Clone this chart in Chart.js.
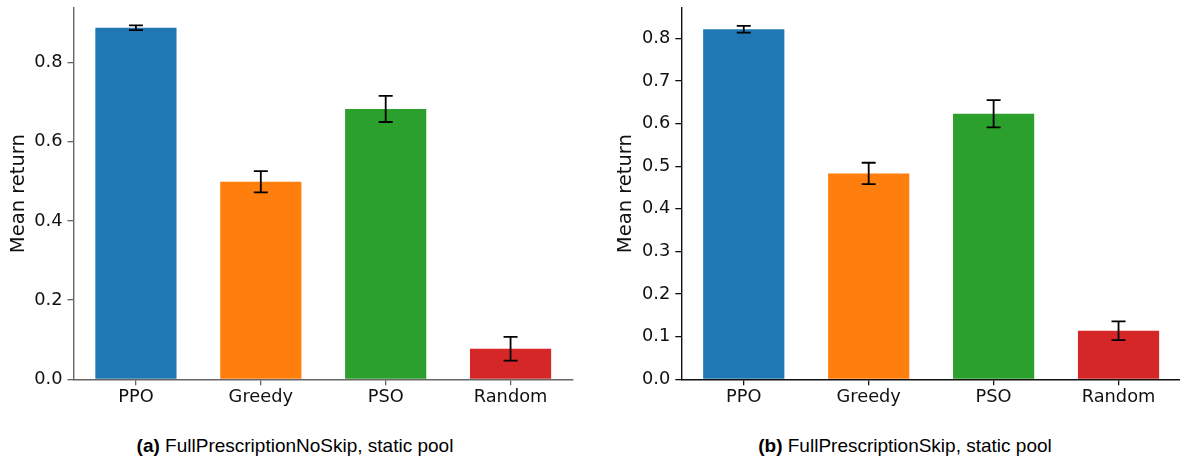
<!DOCTYPE html>
<html>
<head>
<meta charset="utf-8">
<script src="https://cdn.jsdelivr.net/npm/chart.js@4.4.1/dist/chart.umd.min.js"></script>
<style>
  html, body { margin: 0; padding: 0; background: #fff; overflow: hidden; }
  body { width: 1180px; height: 457px; position: relative; }
  .panel { position: absolute; top: 0; height: 410px; }
  .caption {
    position: absolute; top: 436px; width: 600px; text-align: center;
    font-family: "Liberation Sans", Arial, sans-serif; font-size: 19px; line-height: 19px; color: #000;
  }
  .caption b { font-weight: bold; }
</style>
</head>
<body>
<div class="panel" style="left:0px;width:590px"><canvas id="chart_a"></canvas></div>
<div class="panel" style="left:606px;width:575px"><canvas id="chart_b"></canvas></div>
<div class="caption" style="left:-5px"><b>(a)</b> FullPrescriptionNoSkip, static pool</div>
<div class="caption" style="left:605px"><b>(b)</b> FullPrescriptionSkip, static pool</div>

<script>
// data
var methods = ['PPO', 'Greedy', 'PSO', 'Random'];
var barColors = ['#1f77b4', '#ff7f0e', '#2ca02c', '#d62728'];

// (a) FullPrescriptionNoSkip
var meanA = [0.888, 0.499, 0.683, 0.077];
var errA = [0.006, 0.027, 0.033, 0.030];
// (b) FullPrescriptionSkip
var meanB = [0.821, 0.483, 0.623, 0.114];
var errB = [0.008, 0.025, 0.032, 0.022];

// draw matplotlib style error bars on top of the bars
Chart.register({
  id: 'errorBars',
  afterDatasetsDraw: function(chart) {
    var ctx = chart.ctx;
    var yScale = chart.scales.y;
    var errs = chart.options.plugins.errorBars.errors;
    var meta = chart.getDatasetMeta(0);
    var values = chart.data.datasets[0].data;
    ctx.save();
    ctx.strokeStyle = '#000';
    ctx.lineWidth = 1.8;
    meta.data.forEach(function(bar, i) {
      var top = yScale.getPixelForValue(values[i] + errs[i]);
      var bottom = yScale.getPixelForValue(values[i] - errs[i]);
      var cap = 7;
      ctx.beginPath();
      ctx.moveTo(bar.x, top);
      ctx.lineTo(bar.x, bottom);
      ctx.moveTo(bar.x - cap, top);
      ctx.lineTo(bar.x + cap, top);
      ctx.moveTo(bar.x - cap, bottom);
      ctx.lineTo(bar.x + cap, bottom);
      ctx.stroke();
    });
    ctx.restore();
  }
});

function makeChart(id, values, errors, yMax, yStep, yAxisWidth, titlePad, padRight, axisColor) {
  var tickFont = { family: 'DejaVu Sans', size: 17.8 };
  return new Chart(document.getElementById(id), {
    type: 'bar',
    data: {
      labels: methods,
      datasets: [{
        data: values,
        backgroundColor: barColors,
        barPercentage: 0.65,
        categoryPercentage: 1.0
      }]
    },
    options: {
      responsive: true,
      maintainAspectRatio: false,
      animation: false,
      layout: { padding: { top: 8, left: 0, right: padRight, bottom: 0 } },
      plugins: {
        legend: { display: false },
        tooltip: { enabled: false },
        errorBars: { errors: errors }
      },
      scales: {
        x: {
          offset: true,
          grid: { display: true, drawOnChartArea: false, drawTicks: true, tickLength: 6, offset: false, color: axisColor, lineWidth: 1.3 },
          border: { display: true, color: axisColor, width: 1.4 },
          ticks: { font: tickFont, color: '#111', padding: 1, maxRotation: 0 },
          afterFit: function(scale) {
            scale.height = 30.7;
            scale.paddingLeft = 0; scale.paddingRight = 0;
          }
        },
        y: {
          min: 0,
          max: yMax,
          grid: { display: true, drawOnChartArea: false, drawTicks: true, tickLength: 6, color: axisColor, lineWidth: 1.3 },
          border: { display: true, color: axisColor, width: 1.4 },
          ticks: {
            stepSize: yStep,
            font: tickFont,
            color: '#111',
            padding: 5,
            callback: function(v) { return v.toFixed(1); }
          },
          // keep only the round steps, not the axis max
          afterBuildTicks: function(scale) {
            scale.ticks = scale.ticks.filter(function(t) {
              var r = t.value / yStep;
              return Math.abs(r - Math.round(r)) < 1e-6;
            });
          },
          title: {
            display: true,
            text: 'Mean return',
            font: { family: 'DejaVu Sans', size: 19.5 },
            color: '#111',
            padding: { top: titlePad, bottom: 0 }
          },
          afterFit: function(scale) {
            scale.width = yAxisWidth;
            scale.paddingTop = 0; scale.paddingBottom = 0;
          }
        }
      }
    }
  });
}

makeChart('chart_a', meanA, errA, 0.938, 0.2, 73.5, 6.8, 17, '#666');
makeChart('chart_b', meanB, errB, 0.871, 0.1, 75.3, 7.8, 0, '#111');
</script>
</body>
</html>
